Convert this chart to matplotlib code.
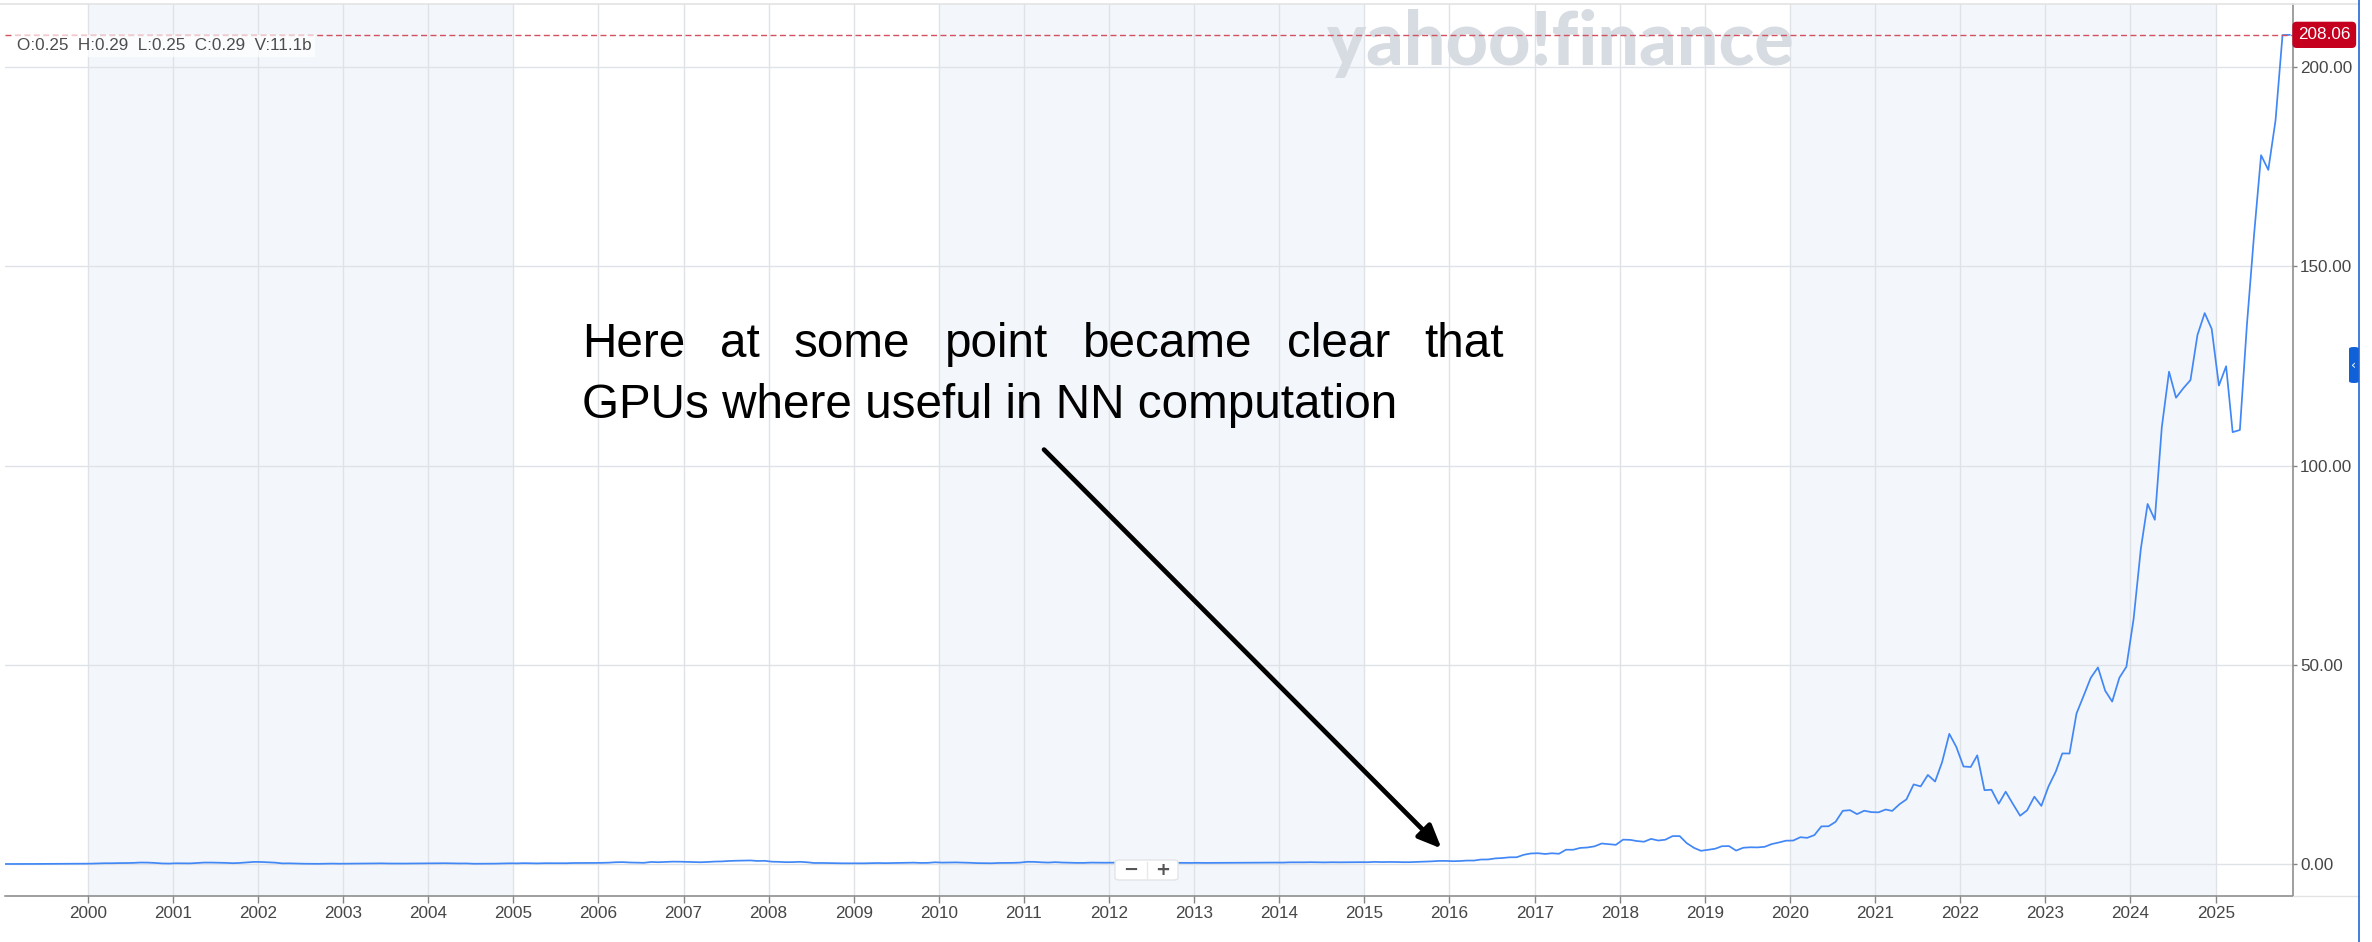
import numpy as np
import pandas as pd
import matplotlib
matplotlib.use("Agg")
import matplotlib.pyplot as plt
import matplotlib.dates as mdates
from matplotlib.patches import FancyBboxPatch
from matplotlib.lines import Line2D
from matplotlib.transforms import blended_transform_factory

plt.rcParams['font.family'] = ['Liberation Sans', 'DejaVu Sans']

# Monthly closes (split adjusted), one block per period
close_1999_2003 = [
    0.035, 0.033, 0.037, 0.042, 0.045, 0.055, 0.060, 0.070, 0.075, 0.085, 0.090, 0.098,
    0.12, 0.17, 0.22, 0.22, 0.26, 0.27, 0.31, 0.40, 0.38, 0.30, 0.17, 0.14,
    0.21, 0.20, 0.18, 0.30, 0.39, 0.39, 0.36, 0.31, 0.23, 0.30, 0.44, 0.56,
    0.54, 0.45, 0.37, 0.18, 0.19, 0.14, 0.10, 0.09, 0.07, 0.10, 0.13, 0.10,
    0.11, 0.11, 0.11, 0.12, 0.17, 0.19, 0.15, 0.14, 0.14, 0.15, 0.18, 0.19,
]
close_2004_2009 = [
    0.19, 0.20, 0.22, 0.18, 0.16, 0.17, 0.09, 0.10, 0.12, 0.12, 0.17, 0.20,
    0.19, 0.24, 0.20, 0.18, 0.23, 0.22, 0.23, 0.22, 0.28, 0.28, 0.30, 0.30,
    0.32, 0.37, 0.47, 0.50, 0.41, 0.38, 0.33, 0.54, 0.48, 0.56, 0.62, 0.61,
    0.57, 0.54, 0.47, 0.54, 0.64, 0.68, 0.79, 0.85, 0.88, 0.92, 0.79, 0.83,
    0.61, 0.57, 0.49, 0.51, 0.58, 0.46, 0.28, 0.29, 0.26, 0.22, 0.20, 0.20,
    0.20, 0.20, 0.24, 0.28, 0.24, 0.27, 0.31, 0.33, 0.37, 0.30, 0.32, 0.46,
]
close_2010_2015 = [
    0.38, 0.40, 0.43, 0.39, 0.33, 0.25, 0.23, 0.21, 0.29, 0.30, 0.32, 0.38,
    0.58, 0.56, 0.46, 0.39, 0.49, 0.40, 0.35, 0.31, 0.31, 0.38, 0.36, 0.35,
    0.37, 0.38, 0.38, 0.32, 0.33, 0.34, 0.31, 0.34, 0.33, 0.30, 0.30, 0.30,
    0.32, 0.30, 0.31, 0.33, 0.35, 0.34, 0.35, 0.38, 0.38, 0.37, 0.37, 0.39,
    0.38, 0.45, 0.44, 0.45, 0.48, 0.45, 0.43, 0.47, 0.45, 0.47, 0.49, 0.49,
    0.48, 0.56, 0.51, 0.54, 0.53, 0.49, 0.49, 0.55, 0.60, 0.69, 0.80, 0.81,
]
close_2016_2020 = [
    0.73, 0.78, 0.89, 0.89, 1.15, 1.17, 1.43, 1.53, 1.71, 1.72, 2.34, 2.67,
    2.73, 2.54, 2.72, 2.60, 3.61, 3.61, 4.06, 4.17, 4.47, 5.17, 5.01, 4.84,
    6.14, 6.08, 5.79, 5.62, 6.33, 5.92, 6.12, 7.02, 7.03, 5.27, 4.09, 3.34,
    3.59, 3.87, 4.49, 4.52, 3.39, 4.11, 4.22, 4.19, 4.35, 5.03, 5.43, 5.88,
    5.91, 6.75, 6.59, 7.28, 9.47, 9.50, 10.61, 13.38, 13.53, 12.54, 13.40, 13.05,
]
close_2021_2025 = [
    12.99, 13.70, 13.35, 15.01, 16.24, 20.00, 19.50, 22.37, 20.72, 25.57, 32.68, 29.41,
    24.49, 24.37, 27.29, 18.55, 18.66, 15.16, 18.17, 15.09, 12.14, 13.50, 16.92, 14.61,
    19.52, 23.22, 27.77, 27.75, 37.81, 42.30, 46.73, 49.35, 43.50, 40.78, 46.77, 49.52,
    61.53, 79.11, 90.36, 86.40, 109.63, 123.54, 117.02, 119.37, 121.44, 132.76, 138.25, 134.29,
    120.07, 124.92, 108.38, 108.92, 135.13, 157.99, 177.87, 174.18, 186.58, 208.00,
]
last_price = 208.06

closes = np.array(close_1999_2003 + close_2004_2009 + close_2010_2015
                  + close_2016_2020 + close_2021_2025 + [last_price])
dates = pd.date_range("1999-01-01", periods=len(closes), freq="MS") + pd.Timedelta(days=14)

y_ticks = [0, 50, 100, 150, 200]
band_starts = [2000, 2010, 2020]

ohlc_keys = ["O", "H", "L", "C", "V"]
ohlc_vals = ["0.25", "0.29", "0.25", "0.29", "11.1b"]

note_line1 = "Here at some point became clear that"
note_line2 = "GPUs where useful in NN computation"
arrow_tail = (pd.Timestamp("2011-03-28"), 104.0)
arrow_tip = (pd.Timestamp("2015-11-28"), 3.9)

W, H = 2372, 942
fig = plt.figure(figsize=(W / 100, H / 100), dpi=100)


def fx(x):
    return x / W


def fy(y):
    return 1 - y / H


ax = fig.add_axes([fx(5), fy(896), (2293 - 5) / W, (896 - 4) / H])

for start in band_starts:
    ax.axvspan(pd.Timestamp(f"{start}-01-01"), pd.Timestamp(f"{start + 5}-01-01"),
               color="#f3f6fa", lw=0, zorder=0)

ax.plot(dates, closes, color="#4187f5", lw=1.25, zorder=3)

# current price marker
ax.axhline(last_price, color="#d2505f", lw=1.0, ls=(0, (4.3, 2.5)), zorder=4)
ax.text(fx(2298), last_price, f"{last_price:.2f}",
        transform=blended_transform_factory(fig.transFigure, ax.transData),
        ha="left", va="center", color="white", fontsize=12.3, clip_on=False, zorder=6,
        bbox=dict(boxstyle="round,pad=0.33,rounding_size=0.25", fc="#c4001e", ec="none"))

ax.set_xlim(pd.Timestamp("1999-01-11"), pd.Timestamp("2025-11-29"))
ax.set_ylim(-8.0, 215.8)

ax.xaxis.set_major_locator(mdates.YearLocator(1))
ax.xaxis.set_major_formatter(mdates.DateFormatter("%Y"))
ax.yaxis.tick_right()
ax.set_yticks(y_ticks)
ax.yaxis.set_major_formatter(lambda v, _: f"{v:.2f}")

ax.set_axisbelow(True)
ax.grid(True, color="#dfe2e6", lw=1.0)
for side in ["left", "top"]:
    ax.spines[side].set_visible(False)
for side in ["right", "bottom"]:
    ax.spines[side].set_color("#858585")
    ax.spines[side].set_linewidth(1.1)

ax.tick_params(axis="x", length=5, width=1, color="#858585", labelcolor="#464646",
               labelsize=12.3, pad=2)
ax.tick_params(axis="y", length=3, width=1, color="#858585", labelcolor="#464646",
               labelsize=12.3, pad=2)

# watermark under the price line
ax.text(fx(1560), fy(65), "yahoo!finance", transform=fig.transFigure, ha="center",
        va="baseline", fontsize=53, fontweight="black", family="Lato",
        color="#d6dce2", zorder=1.5, clip_on=False)

# OHLC readout
ohlc = "  ".join(f"{k}:{v}" for k, v in zip(ohlc_keys, ohlc_vals))
ax.text(fx(17), fy(46), ohlc, transform=fig.transFigure, ha="left", va="center",
        fontsize=12.3, color="#4d4d4d", zorder=5,
        bbox=dict(boxstyle="square,pad=0.2", fc="white", ec="none", alpha=0.7))

# note, first line justified across the block width
note_size = 34.3
left, right = 582, 1504
fig.canvas.draw()
renderer = fig.canvas.get_renderer()
words = note_line1.split()
word_texts = [ax.text(0, fy(357), w, transform=fig.transFigure, fontsize=note_size,
                      va="baseline", ha="left", zorder=5) for w in words]
widths = [t.get_window_extent(renderer).width for t in word_texts]
gap = (right - left - sum(widths)) / (len(words) - 1)
x = left
for t, w in zip(word_texts, widths):
    t.set_x(fx(x))
    x += w + gap
ax.text(fx(left), fy(418), note_line2, transform=fig.transFigure, fontsize=note_size,
        va="baseline", ha="left", zorder=5)

ax.annotate("", xy=arrow_tip, xytext=arrow_tail, zorder=5,
            arrowprops=dict(arrowstyle="-|>,head_length=0.7,head_width=0.3",
                            mutation_scale=20, lw=3.4, color="black",
                            shrinkA=0, shrinkB=0))

# zoom buttons
btn = FancyBboxPatch((fx(1115), fy(880)), (1178 - 1115) / W, 20 / H,
                     boxstyle="round,pad=0,rounding_size=0.002", transform=fig.transFigure,
                     fc="white", ec="#e2e4e8", lw=1.0, zorder=5)
fig.add_artist(btn)
fig.add_artist(Line2D([fx(1147)] * 2, [fy(878), fy(862)], transform=fig.transFigure,
                      color="#e6e8eb", lw=1.0, zorder=6))
fig.text(fx(1131), fy(870), "\u2212", ha="center", va="center", fontsize=13,
         fontweight="bold", color="#555555", family="DejaVu Sans", zorder=7)
fig.text(fx(1163), fy(870), "+", ha="center", va="center", fontsize=13,
         fontweight="bold", color="#555555", family="DejaVu Sans", zorder=7)

# frame lines around the chart panel
fig.add_artist(Line2D([0, fx(2359)], [fy(4)] * 2, transform=fig.transFigure,
                      color="#e3e3e3", lw=1.2))
fig.add_artist(Line2D([fx(2293), fx(2359)], [fy(896)] * 2, transform=fig.transFigure,
                      color="#e3e3e3", lw=1.0))
fig.add_artist(Line2D([fx(2359)] * 2, [0, 1], transform=fig.transFigure,
                      color="#2166d9", lw=1.2))
tab = FancyBboxPatch((fx(2349), fy(383)), 10 / W, 36 / H,
                     boxstyle="round,pad=0,rounding_size=0.002", transform=fig.transFigure,
                     fc="#1060d8", ec="none")
fig.add_artist(tab)
fig.text(fx(2354), fy(365), "\u2039", ha="center", va="center", fontsize=9,
         color="white", family="DejaVu Sans", zorder=7)

fig.savefig("out.png", dpi=100)
